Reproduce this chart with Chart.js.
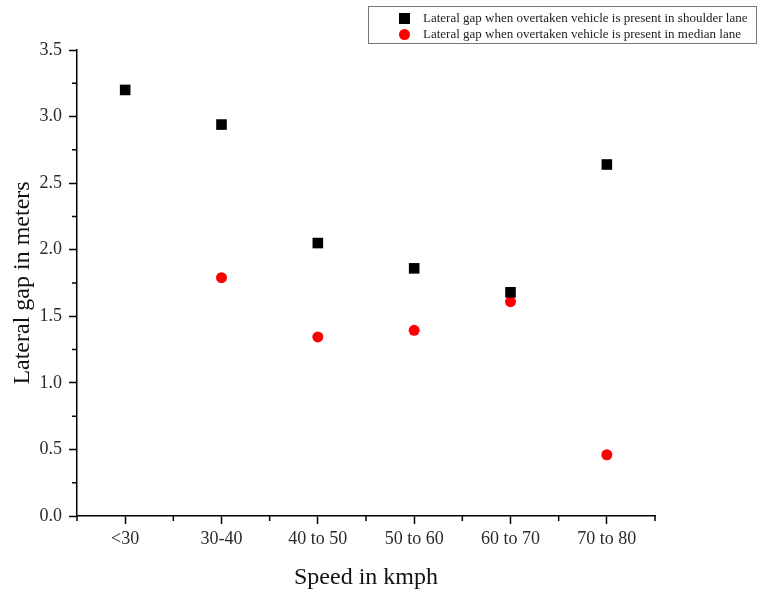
<!DOCTYPE html>
<html lang="en">
<head>
  <meta charset="UTF-8" />
  <title>Lateral gap vs speed</title>
  <script src="https://cdn.jsdelivr.net/npm/chart.js"></script>
  <style>
    body {
      margin: 0;
      padding: 0;
      background: #fff;
    }
    .wrap {
      position: relative;
      width: 761px;
      height: 596px;
    }
    .legend {
      position: absolute;
      left: 368px;
      top: 6px;
      width: 389px;
      height: 38px;
      border: 1px solid #777;
      box-sizing: border-box;
      font-family: 'Liberation Serif', serif;
      font-size: 13px;
      color: #222;
      padding-top: 3px;
    }
    .legend div {
      height: 16px;
      line-height: 16px;
      display: flex;
      align-items: center;
    }
    .legend span.mark {
      display: inline-block;
      width: 11px;
      height: 11px;
      margin-left: 30px;
      margin-right: 13px;
    }
  </style>
</head>
<body>

  <div class="wrap">
    <canvas id="scatter" width="761" height="596"></canvas>
    <div class="legend" id="legend"></div>
  </div>

  <script>
    const categories = ['<30', '30-40', '40 to 50', '50 to 60', '60 to 70', '70 to 80'];
    const shoulderGap = [3.20, 2.94, 2.05, 1.86, 1.68, 2.64];
    const medianGap = [null, 1.79, 1.345, 1.395, 1.61, 0.46];
    const seriesNames = [
      'Lateral gap when overtaken vehicle is present in shoulder lane',
      'Lateral gap when overtaken vehicle is present in median lane'
    ];

    const toPoints = arr => arr.map((v, i) => v === null ? null : { x: i, y: v }).filter(p => p);

    // minor ticks (half steps) drawn shorter than the major ones
    const minorTicks = {
      id: 'minorTicks',
      afterDraw(chart) {
        const c = chart.ctx;
        const xs = chart.scales.x, ys = chart.scales.y;
        c.save();
        c.strokeStyle = '#000';
        c.lineWidth = 1.5;
        c.beginPath();
        for (let v = -0.5; v <= categories.length - 0.5; v += 1) {
          const px = xs.getPixelForValue(v);
          c.moveTo(px, xs.top);
          c.lineTo(px, xs.top + 5);
        }
        for (let v = 0.25; v < 3.5; v += 0.5) {
          const py = ys.getPixelForValue(v);
          c.moveTo(ys.right, py);
          c.lineTo(ys.right - 5, py);
        }
        c.stroke();
        c.restore();
      }
    };

    const ctx = document.getElementById('scatter').getContext('2d');
    const chart = new Chart(ctx, {
      type: 'scatter',
      data: {
        datasets: [{
          label: seriesNames[0],
          data: toPoints(shoulderGap),
          pointStyle: 'rect',
          pointRadius: 7.5,
          pointHoverRadius: 7.5,
          backgroundColor: '#000',
          borderWidth: 0
        }, {
          label: seriesNames[1],
          data: toPoints(medianGap),
          pointStyle: 'circle',
          pointRadius: 5.5,
          pointHoverRadius: 5.5,
          backgroundColor: '#ff0000',
          borderWidth: 0
        }]
      },
      options: {
        responsive: false,
        animation: false,
        layout: { padding: { top: 50, right: 106, left: 0, bottom: 0 } },
        plugins: {
          legend: { display: false },
          tooltip: { enabled: false }
        },
        scales: {
          x: {
            type: 'linear',
            min: -0.5,
            max: categories.length - 0.5,
            afterBuildTicks: scale => {
              scale.ticks = categories.map((c, i) => ({ value: i }));
            },
            afterFit: scale => { scale.height = 80; },
            grid: {
              drawOnChartArea: false,
              drawTicks: true,
              tickLength: 8,
              tickWidth: 1.5,
              tickColor: '#000'
            },
            border: { display: true, color: '#000', width: 1.5 },
            ticks: {
              color: '#2a2a2a',
              padding: 4,
              font: { family: 'Liberation Serif', size: 18 },
              callback: v => categories[v]
            },
            title: {
              display: true,
              text: 'Speed in kmph',
              color: '#111',
              font: { family: 'Liberation Serif', size: 24 },
              padding: { top: 8, bottom: 4 }
            }
          },
          y: {
            min: 0,
            max: 3.5,
            afterFit: scale => { scale.width = 77; },
            grid: {
              drawOnChartArea: false,
              drawTicks: true,
              tickLength: 8,
              tickWidth: 1.5,
              tickColor: '#000'
            },
            border: { display: true, color: '#000', width: 1.5 },
            ticks: {
              stepSize: 0.5,
              color: '#2a2a2a',
              padding: 7,
              font: { family: 'Liberation Serif', size: 18 },
              callback: v => v.toFixed(1)
            },
            title: {
              display: true,
              text: 'Lateral gap in meters',
              color: '#111',
              font: { family: 'Liberation Serif', size: 24 },
              padding: { top: 8, bottom: 4 }
            }
          }
        }
      },
      plugins: [minorTicks]
    });

    // html legend built from the datasets
    const legend = document.getElementById('legend');
    chart.data.datasets.forEach(ds => {
      const row = document.createElement('div');
      const mark = document.createElement('span');
      mark.className = 'mark';
      mark.style.background = ds.backgroundColor;
      if (ds.pointStyle === 'circle') mark.style.borderRadius = '50%';
      row.appendChild(mark);
      row.appendChild(document.createTextNode(ds.label));
      legend.appendChild(row);
    });
  </script>

</body>
</html>
